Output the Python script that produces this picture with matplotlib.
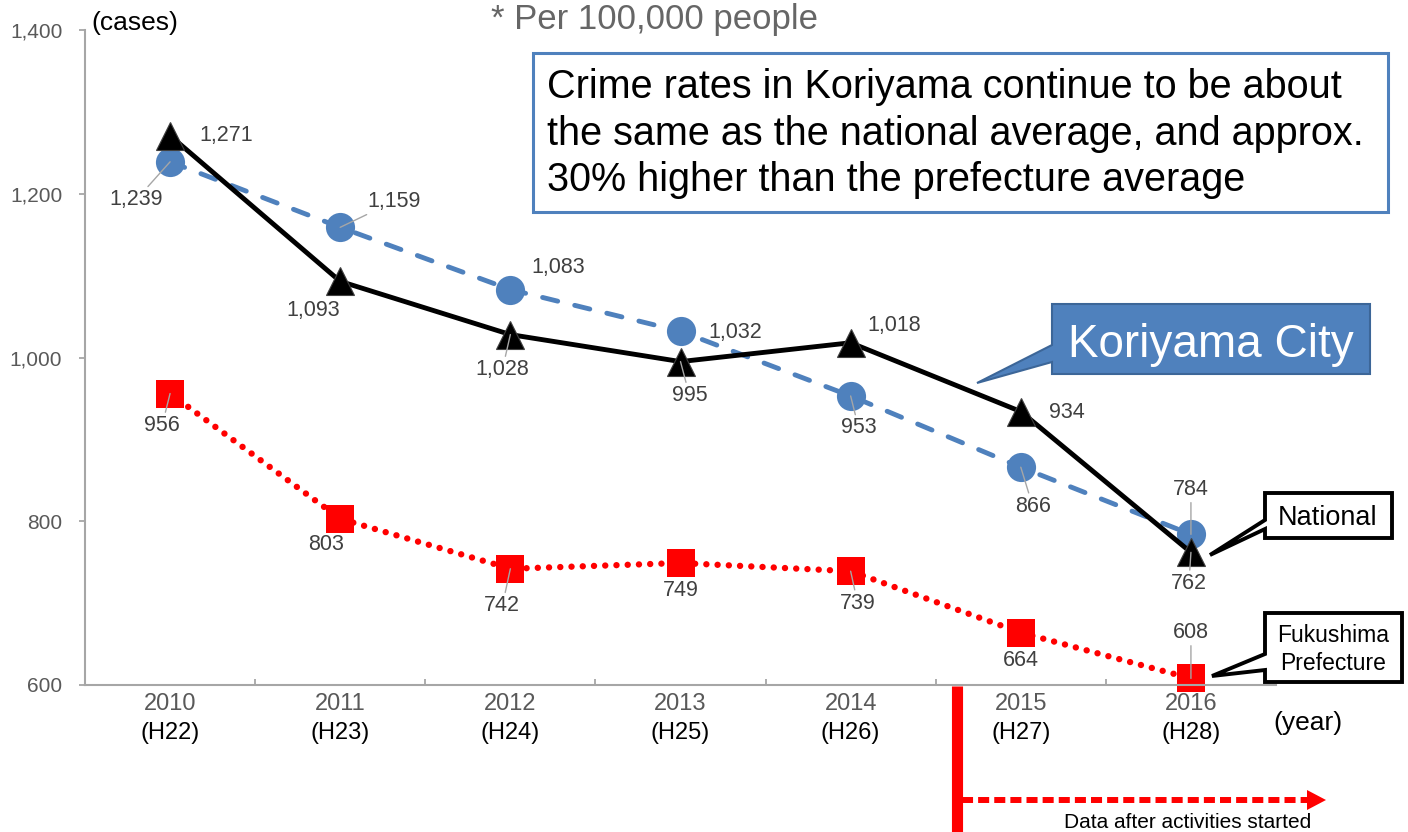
import matplotlib
matplotlib.use("Agg")
import matplotlib.pyplot as plt
from matplotlib.patches import Polygon, Rectangle
from matplotlib.lines import Line2D
from matplotlib.transforms import Affine2D

plt.rcParams['font.family'] = ['Liberation Sans', 'DejaVu Sans']

# Data (crimes per 100,000 people)
years = ['2010', '2011', '2012', '2013', '2014', '2015', '2016']
heisei = ['(H22)', '(H23)', '(H24)', '(H25)', '(H26)', '(H27)', '(H28)']
koriyama = [1271, 1093, 1028, 995, 1018, 934, 762]
national = [1239, 1159, 1083, 1032, 953, 866, 784]
fukushima = [956, 803, 742, 749, 739, 664, 608]

# Label offsets in pixels (dx, dy) and whether a leader line is shown
koriyama_offsets = [(56, 0), (-27, -29), (-8, -35), (9, -34), (44, 17), (46, -1), (-2, -31)]
koriyama_leader = [False, False, True, True, False, False, True]
national_offsets = [(-34, -38), (54, 26), (48, 22), (55, -1), (8, -32), (12, -39), (0, 45)]
national_leader = [True, True, False, False, True, True, True]
fukushima_offsets = [(-8, -32), (-14, -26), (-8, -37), (0, -27), (7, -32), (0, -28), (0, 46)]
fukushima_leader = [True, False, True, False, True, False, True]

W, H = 1408, 832
BLUE = '#4F81BD'
RED = '#FF0000'
AXIS_GRAY = '#A6A6A6'
TICK_GRAY = '#595959'
LABEL_GRAY = '#404040'

fig = plt.figure(figsize=(W / 100, H / 100), dpi=100)
ax = fig.add_axes([85 / W, 1 - 685 / H, (1276 - 85) / W, (685 - 30) / H])
pix = Affine2D().scale(1 / W, -1 / H).translate(0, 1) + fig.transFigure

x = list(range(len(years)))

ax.plot(x, fukushima, color=RED, lw=4.6, linestyle=(0, (0.01, 1.75)),
        dash_capstyle='round', marker='s', markersize=19.5, markeredgewidth=0,
        clip_on=False, zorder=2)
ax.plot(x, national, color=BLUE, lw=3.5, linestyle=(0, (3.2, 3.6)),
        dash_capstyle='round', marker='o', markersize=21, markeredgewidth=0,
        clip_on=False, zorder=3)
ax.plot(x, koriyama, color='black', lw=3.5, marker='^', markersize=20,
        markeredgecolor='#404040', markeredgewidth=0.8, clip_on=False, zorder=4)


def add_labels(values, offsets, leaders):
    for i, (v, off, lead) in enumerate(zip(values, offsets, leaders)):
        props = None
        if lead:
            props = dict(arrowstyle='-', color=AXIS_GRAY, lw=1.0,
                         shrinkA=0, shrinkB=0)
        ax.annotate(f"{v:,}", xy=(i, v), xytext=off, textcoords='offset pixels',
                    ha='center', va='center', fontsize=15.5, color=LABEL_GRAY,
                    arrowprops=props, annotation_clip=False, zorder=6)


add_labels(koriyama, koriyama_offsets, koriyama_leader)
add_labels(national, national_offsets, national_leader)
add_labels(fukushima, fukushima_offsets, fukushima_leader)

# Axes styling
ax.set_xlim(-0.5, 6.5)
ax.set_ylim(600, 1400)
ax.set_yticks([600, 800, 1000, 1200, 1400])
ax.set_yticklabels([f"{t:,}" for t in [600, 800, 1000, 1200, 1400]])
ax.set_xticks(x)
ax.set_xticklabels(years)
ax.set_xticks([i + 0.5 for i in range(6)], minor=True)
for s in ['top', 'right']:
    ax.spines[s].set_visible(False)
for s in ['left', 'bottom']:
    ax.spines[s].set_color(AXIS_GRAY)
    ax.spines[s].set_linewidth(1.5)
ax.tick_params(axis='y', direction='out', length=4.3, width=1.3, color=AXIS_GRAY,
               labelsize=15, labelcolor=TICK_GRAY, pad=12)
ax.tick_params(axis='x', which='major', length=0, labelsize=17,
               labelcolor=TICK_GRAY, pad=6)
ax.tick_params(axis='x', which='minor', direction='in', length=4.3, width=1.3,
               color=AXIS_GRAY)

for i, h in enumerate(heisei):
    ax.annotate(h, xy=(i, 0), xycoords=('data', 'axes fraction'), xytext=(0, -48),
                textcoords='offset pixels', ha='center', va='center',
                fontsize=17, color='black', annotation_clip=False)

fig.text(91, 23, '(cases)', transform=pix, fontsize=19, ha='left', va='center')
fig.text(1308, 723, '(year)', transform=pix, fontsize=19, ha='center', va='center')
fig.text(491, 29, '* Per 100,000 people', transform=pix, fontsize=25,
         color='#666666', ha='left', va='baseline')

# Summary box
fig.add_artist(Rectangle((533, 53), 855, 159, transform=pix, facecolor='white',
                         edgecolor=BLUE, lw=2.2, zorder=5))
summary = ['Crime rates in Koriyama continue to be about',
           'the same as the national average, and approx.',
           '30% higher than the prefecture average']
for line, base in zip(summary, [98, 145, 191]):
    fig.text(547, base, line, transform=pix, fontsize=28.5, color='black',
             ha='left', va='baseline', zorder=6)

# Callouts
callouts = [
    ([(1052, 304), (1370, 304), (1370, 374), (1052, 374), (1052, 362), (977, 383), (1052, 345)],
     BLUE, '#3C6698', 1.5),
    ([(1265, 493), (1392, 493), (1392, 538), (1265, 538), (1265, 529), (1210, 555), (1265, 520)],
     'white', 'black', 2.8),
    ([(1265, 613), (1402, 613), (1402, 682), (1265, 682), (1265, 670), (1212, 676), (1265, 654)],
     'white', 'black', 2.8),
]
for verts, fc, ec, lw in callouts:
    fig.add_artist(Polygon(verts, closed=True, transform=pix, facecolor=fc,
                           edgecolor=ec, lw=lw, joinstyle='miter', zorder=5))
fig.text(1211, 357, 'Koriyama City', transform=pix, fontsize=33, color='white',
         ha='center', va='baseline', zorder=6)
fig.text(1328, 525, 'National', transform=pix, fontsize=19.5, color='black',
         ha='center', va='baseline', zorder=6)
fig.text(1333, 642, 'Fukushima', transform=pix, fontsize=16.5, color='black',
         ha='center', va='baseline', zorder=6)
fig.text(1333, 670, 'Prefecture', transform=pix, fontsize=16.5, color='black',
         ha='center', va='baseline', zorder=6)

# Start of activities marker
fig.add_artist(Line2D([957, 957], [686, 845], transform=pix, color=RED, lw=8,
                      solid_capstyle='butt', zorder=5))
fig.add_artist(Line2D([962, 1309], [800, 800], transform=pix, color=RED, lw=4.3,
                      dashes=(1.85, 0.85), dash_capstyle='butt', zorder=5))
fig.add_artist(Polygon([(1307, 790), (1326, 800), (1307, 810)], closed=True,
                       transform=pix, facecolor=RED, edgecolor='none', zorder=5))
fig.text(1188, 828, 'Data after activities started', transform=pix, fontsize=15,
         color='black', ha='center', va='baseline', zorder=6)

fig.savefig('out.png', dpi=100)
